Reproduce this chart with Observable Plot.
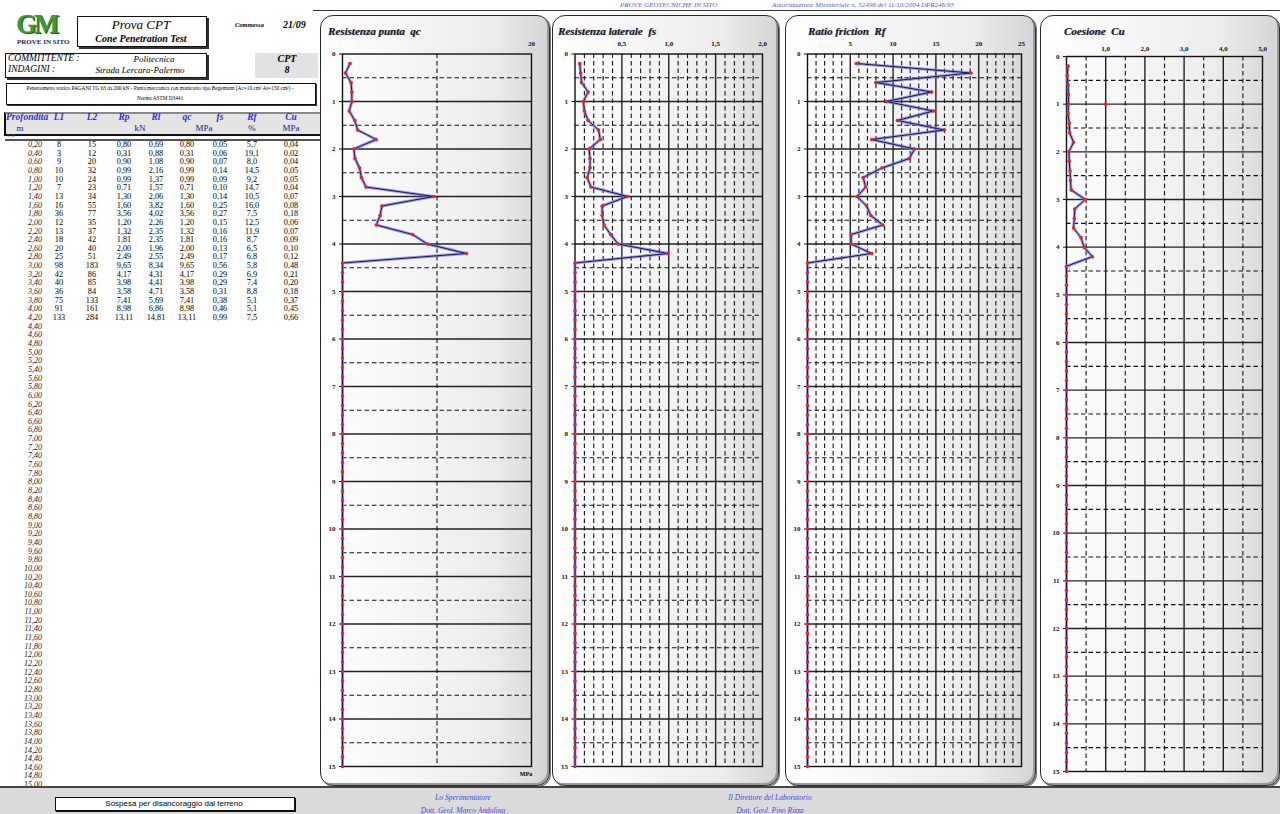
<!DOCTYPE html>
<html><head><meta charset="utf-8">
<script src="https://cdn.jsdelivr.net/npm/d3@7"></script>
<script src="https://cdn.jsdelivr.net/npm/@observablehq/plot@0.6"></script>
<style>
body{margin:0;width:1280px;height:814px;position:relative;overflow:hidden;background:#fff;font-family:"Liberation Serif",serif;}
.t{position:absolute;white-space:pre;line-height:1;}
.box{position:absolute;border:1.3px solid #111;box-shadow:2px 2px 0 #333;background:#fff;}
.panel{position:absolute;border:1.6px solid #2a2a2a;border-radius:13px;background:linear-gradient(to right,#ffffff 0%,#ececec 75%,#d4d4d4 100%);box-shadow:inset -2px -2px 0 #9a9a9a, 1px 1px 0 #777;}
.psvg{position:absolute;}
</style></head><body>
<script>
// ---------- DATA ----------
const measuredDepth = [0.2,0.4,0.6,0.8,1.0,1.2,1.4,1.6,1.8,2.0,2.2,2.4,2.6,2.8,3.0,3.2,3.4,3.6,3.8,4.0,4.2];
const L1 = [8,3,9,10,10,7,13,16,36,12,13,18,20,25,98,42,40,36,75,91,133];
const L2 = [15,12,20,32,24,23,34,55,77,35,37,42,40,51,183,86,85,84,133,161,284];
const Rp = [0.80,0.31,0.90,0.99,0.99,0.71,1.30,1.60,3.56,1.20,1.32,1.81,2.00,2.49,9.65,4.17,3.98,3.58,7.41,8.98,13.11];
const Rl = [0.69,0.88,1.08,2.16,1.37,1.57,2.06,3.82,4.02,2.26,2.35,2.35,1.96,2.55,8.34,4.31,4.41,4.71,5.69,6.86,14.81];
const qc = [0.80,0.31,0.90,0.99,0.99,0.71,1.30,1.60,3.56,1.20,1.32,1.81,2.00,2.49,9.65,4.17,3.98,3.58,7.41,8.98,13.11];
const fs = [0.05,0.06,0.07,0.14,0.09,0.10,0.14,0.25,0.27,0.15,0.16,0.16,0.13,0.17,0.56,0.29,0.29,0.31,0.38,0.46,0.99];
const Rf = [5.7,19.1,8.0,14.5,9.2,14.7,10.5,16.0,7.5,12.5,11.9,8.7,6.5,6.8,5.8,6.9,7.4,8.8,5.1,5.1,7.5];
const Cu = [0.04,0.02,0.04,0.05,0.05,0.04,0.07,0.08,0.18,0.06,0.07,0.09,0.10,0.12,0.48,0.21,0.20,0.18,0.37,0.45,0.66];
// sampling grid of the test (every 0.20 m down to 15.00 m); below 4.20 m the chart plots 0
const depthGrid = d3.range(1, 76).map(i => +(i * 0.2).toFixed(2));
const cuIsolated = [{depth: 1.0, v: 1.0}];
const depthTicks = d3.range(0, 16);
const qcTicks = [20], fsTicks = [0.5, 1.0, 1.5, 2.0], rfTicks = [5, 10, 15, 20, 25], cuTicks = [1, 2, 3, 4, 5];

// ---------- helpers ----------
const comma = (f) => (d) => d3.format(f)(d).replace(".", ",");
function T(str, x, y, style = {}, anchor = "left") {
  const el = document.createElement("div");
  el.className = "t";
  el.textContent = str;
  Object.assign(el.style, {left: x + "px", top: y + "px"}, style);
  const tx = anchor === "center" ? "-50%" : anchor === "right" ? "-100%" : "0";
  el.style.transform = `translate(${tx},-50%)`;
  document.body.appendChild(el);
  return el;
}
function D(cls, x, y, w, h, style = {}) {
  const el = document.createElement("div");
  el.className = cls;
  Object.assign(el.style, {left: x + "px", top: y + "px", width: w + "px", height: h + "px"}, style);
  document.body.appendChild(el);
  return el;
}
const blue = "#2f2fe0";

// ---------- page header ----------
D("", 313, 10, 967, 0, {position: "absolute", borderTop: "1.6px solid #333"});
T("PROVE GEOTECNICHE IN SITO", 620, 5, {fontSize: "7px", fontStyle: "italic", color: "#5555ee"});
T("Autorizzazione Ministeriale n. 52498 del 11/10/2004 DPR246/93", 772, 5, {fontSize: "7px", fontStyle: "italic", color: "#5555ee"});

// logo
T("GM", 16, 24, {fontSize: "27px", fontWeight: "bold", color: "#3c9a34", letterSpacing: "-3px", fontFamily: "Liberation Serif", textShadow: "1px 1px 0 #1d5e1a"});
T("PROVE IN SITO", 17, 42, {fontSize: "7px", fontWeight: "bold", color: "#1c1c5c"});
D("box", 77, 16, 128, 29);
T("Prova CPT", 141, 24, {fontSize: "13px", fontStyle: "italic"}, "center");
T("Cone Penetration Test", 141, 39, {fontSize: "10px", fontStyle: "italic", fontWeight: "bold"}, "center");
T("Commessa", 235, 25, {fontSize: "6.5px", fontStyle: "italic", fontWeight: "bold"});
T("21/09", 283, 25, {fontSize: "10px", fontStyle: "italic", fontWeight: "bold"});
D("box", 5, 53, 200, 23);
T("COMMITTENTE :", 8, 59, {fontSize: "9.5px", fontStyle: "italic"});
T("Politecnica", 154, 59, {fontSize: "9px", fontStyle: "italic"}, "center");
T("INDAGINI :", 8, 70, {fontSize: "9.5px", fontStyle: "italic"});
T("Strada Lercara-Palermo", 140, 70, {fontSize: "9px", fontStyle: "italic"}, "center");
D("", 255, 53, 63, 25, {position: "absolute", background: "#e2e2e2"});
T("CPT", 287, 59, {fontSize: "10px", fontStyle: "italic", fontWeight: "bold"}, "center");
T("8", 287, 70, {fontSize: "10px", fontStyle: "italic", fontWeight: "bold"}, "center");
D("box", 6, 83, 308, 20, {boxShadow: "1px 1px 0 #333"});
T("Penetrometro statico PAGANI TG 63 da 200 kN - Punta meccanica con manicotto tipo Begemann (Ac=10 cm² As=150 cm²) -", 160, 89, {fontSize: "5.3px"}, "center");
T("Norma ASTM D3441", 160, 99, {fontSize: "5.3px"}, "center");

// ---------- table ----------
D("", 4, 112, 316, 20, {position: "absolute", background: "#e4e4e4", borderTop: "2px solid #8a8a8a", borderLeft: "2px solid #111", borderBottom: "2px solid #111"});
const hStyle = {fontSize: "9.5px", fontStyle: "italic", fontWeight: "bold", color: blue};
T("Profondità", 6, 118, hStyle);
T("m", 20, 128, {fontSize: "9px", color: "#1a1a6a"}, "center");
const colX = {L1: 59, L2: 92, Rp: 124, Rl: 156, qc: 187, fs: 220, Rf: 252, Cu: 291};
Object.entries(colX).forEach(([k, x]) => T(k, x, 118, hStyle, "center"));
const uStyle = {fontSize: "9px", color: "#1a1a6a"};
T("kN", 140, 128, uStyle, "center");
T("MPa", 204, 128, uStyle, "center");
T("%", 252, 128, uStyle, "center");
T("MPa", 291, 128, uStyle, "center");
T("0,00", 7, 136, {fontSize: "4.5px", fontStyle: "italic", color: "#555"});
D("", 5, 139, 315, 0, {position: "absolute", borderTop: "2.5px solid #555"});

const rowY = (i) => 145 + i * 8.65;
const vStyle = {fontSize: "8.3px", color: "#000"};
depthGrid.forEach((d, i) => {
  T(comma(".2f")(d), 42, rowY(i), {fontSize: "8px", fontStyle: "italic", color: "#222"}, "right");
});
measuredDepth.forEach((d, i) => {
  const y = rowY(i);
  T(String(L1[i]), colX.L1, y, vStyle, "center");
  T(String(L2[i]), colX.L2, y, vStyle, "center");
  T(comma(".2f")(Rp[i]), colX.Rp, y, vStyle, "center");
  T(comma(".2f")(Rl[i]), colX.Rl, y, vStyle, "center");
  T(comma(".2f")(qc[i]), colX.qc, y, vStyle, "center");
  T(comma(".2f")(fs[i]), colX.fs, y, vStyle, "center");
  T(comma(".1f")(Rf[i]), colX.Rf, y, vStyle, "center");
  T(comma(".2f")(Cu[i]), colX.Cu, y, vStyle, "center");
});

// ---------- panels ----------
const hMajor = d3.range(1, 15);
const hMinor = d3.range(0.5, 15, 1);
function panel(cfg) {
  D("panel", cfg.left, cfg.top, cfg.w, cfg.h);
  T(cfg.title, cfg.left + cfg.titleDx, 31, {fontSize: "11px", fontStyle: "italic", fontWeight: "bold", color: "#14142e", textShadow: "0.6px 0.6px 0 #9a9a9a"});
  const data = depthGrid.map((d, i) => ({depth: d, v: i < cfg.values.length ? cfg.values[i] : 0}));
  const marks = [
    Plot.ruleY(hMinor, {stroke: "#111", strokeWidth: 1.1, strokeDasharray: "4.5,3"}),
    Plot.ruleY(hMajor, {stroke: "#222", strokeWidth: 1.4}),
    Plot.ruleX(cfg.vMinor, {stroke: "#111", strokeWidth: 1.1, strokeDasharray: "4.5,3"}),
    Plot.ruleX(cfg.vMajor, {stroke: "#222", strokeWidth: 1.4}),
    Plot.frame({stroke: "#111", strokeWidth: 1.4}),
    Plot.axisY({ticks: depthTicks, tickSize: 3, tickPadding: 4, tickFormat: d => d, fontSize: 7, fontWeight: "bold", label: null}),
    Plot.axisX({anchor: "top", ticks: cfg.xTicks, tickSize: 0, tickPadding: cfg.xPad, tickFormat: cfg.fmt, fontSize: 7, fontWeight: "bold", label: null}),
    Plot.line(data, {x: "v", y: "depth", stroke: "#8080c8", strokeWidth: 3, strokeOpacity: 0.75}),
    Plot.line(data, {x: "v", y: "depth", stroke: "#14147a", strokeWidth: 1}),
    Plot.dot(data, {x: "v", y: "depth", fill: "#ff1a1a", r: 1.8})
  ];
  if (cfg.extra) marks.push(Plot.dot(cfg.extra, {x: "v", y: "depth", fill: "#ff1a1a", r: 1.8}));
  const svg = Plot.plot({
    width: cfg.w, height: cfg.h,
    marginLeft: cfg.ml, marginRight: cfg.mr, marginTop: cfg.mt, marginBottom: cfg.mb,
    x: {domain: [0, cfg.max]},
    y: {domain: [0, 15], reverse: true},
    style: {background: "transparent", fontFamily: "Liberation Serif", color: "#111", overflow: "visible"},
    marks
  });
  svg.classList.add("psvg");
  svg.style.left = cfg.left + "px";
  svg.style.top = cfg.top + "px";
  document.body.appendChild(svg);
}

panel({title: "Resistenza punta  qc", left: 320, top: 15, w: 228, h: 769, titleDx: 8,
  ml: 22, mr: 17, mt: 38.5, mb: 18, max: 20, values: qc,
  xTicks: qcTicks, fmt: d => d, xPad: 8, vMajor: [], vMinor: [10]});
T("MPa", 526, 774, {fontSize: "6px", fontWeight: "bold"}, "center");

panel({title: "Resistenza laterale  fs", left: 552, top: 15, w: 225, h: 769, titleDx: 6,
  ml: 22.5, mr: 15, mt: 38.5, mb: 18, max: 2, values: fs,
  xTicks: fsTicks, fmt: comma(".1f"), xPad: 8, vMajor: [0.5, 1.0, 1.5],
  vMinor: [0.1,0.2,0.3,0.4,0.6,0.7,0.8,0.9,1.1,1.2,1.3,1.4,1.6,1.7,1.8,1.9]});

panel({title: "Ratio friction  Rf", left: 785, top: 15, w: 249, h: 769, titleDx: 23,
  ml: 22, mr: 13, mt: 38.5, mb: 18, max: 25, values: Rf,
  xTicks: rfTicks, fmt: d => d, xPad: 8, vMajor: [5, 10, 15, 20],
  vMinor: [1,2,3,4,6,7,8,9,11,12,13,14,16,17,18,19,21,22,23,24]});

panel({title: "Coesione  Cu", left: 1040, top: 15, w: 238, h: 769, titleDx: 24,
  ml: 26, mr: 16, mt: 41, mb: 13, max: 5, values: Cu, extra: cuIsolated,
  xTicks: cuTicks, fmt: comma(".1f"), xPad: 6, vMajor: [1, 2, 3, 4],
  vMinor: [0.5, 1.5, 2.5, 3.5, 4.5]});

// ---------- footer ----------
D("", 0, 786, 1280, 28, {position: "absolute", background: "#dadada", borderTop: "2px solid #444"});
D("box", 55, 797, 238, 12, {boxShadow: "1px 1px 0 #111"});
T("Sospesa per disancoraggio dal terreno", 174, 803.5, {fontSize: "8px", fontFamily: "Liberation Sans"}, "center");
const fStyle = {fontSize: "7.5px", fontStyle: "italic", color: "#4646e6"};
T("Lo Sperimentatore", 463, 798, fStyle, "center");
T("Dott. Geol. Marco Andolina", 463, 811, fStyle, "center");
T("Il Direttore del Laboratorio", 770, 798, fStyle, "center");
T("Dott. Geol. Pino Rizza", 770, 811, fStyle, "center");
</script>
</body></html>
